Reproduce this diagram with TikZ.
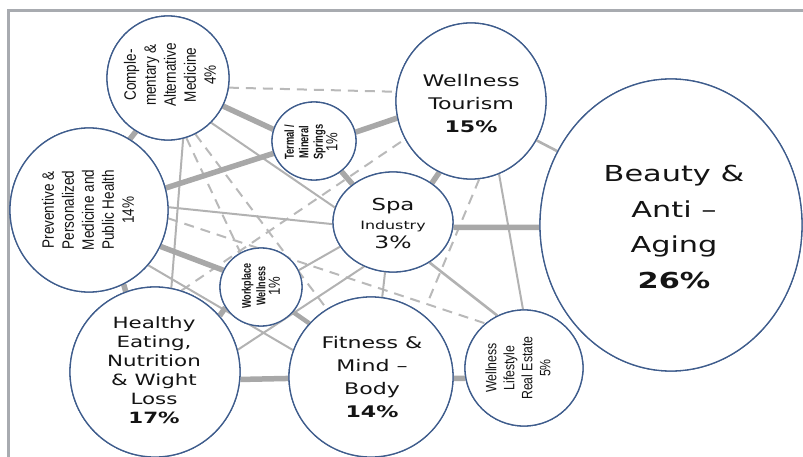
\documentclass[tikz,border=0pt]{standalone}
\usepackage{fontspec}
\setmainfont{DejaVu Sans}
\newfontfamily\wide[FakeStretch=1.38]{DejaVu Sans}
\newfontfamily\narrow[FakeStretch=0.82]{Liberation Sans}
\newfontfamily\condb[FakeStretch=0.72]{Liberation Sans}
\usetikzlibrary{shapes.geometric}
\definecolor{rim}{RGB}{62,92,140}
\definecolor{thickc}{RGB}{168,168,168}
\definecolor{thinc}{RGB}{178,178,178}
\definecolor{dashc}{RGB}{185,185,185}
\definecolor{framec}{RGB}{168,171,176}
\definecolor{txt}{RGB}{20,20,20}
\tikzset{
  bubble/.style={ellipse, draw=rim, line width=1.3pt, fill=white, inner sep=0pt},
  thickline/.style={draw=thickc, line width=5.5pt},
  thinline/.style={draw=thinc, line width=2pt},
  dashline/.style={draw=dashc, line width=2pt, dash pattern=on 10pt off 7pt},
  lbl/.style={text=txt, align=center, inner sep=0pt},
  rotlbl/.style={lbl, rotate=90},
}
\begin{document}
\begin{tikzpicture}[x=1pt,y=-1pt]
\useasboundingbox (0,0) rectangle (803,457);
% frame
\draw[framec, line width=2.6pt] (8.5,457) -- (8.5,10.5) -- (803,10.5);
% bubbles (named, used as connector ends)
\path
  node[bubble, minimum width=122pt, minimum height=124pt] (comp) at (168,78) {}
  node[bubble, minimum width=84pt, minimum height=78pt] (term) at (314,141) {}
  node[bubble, minimum width=150pt, minimum height=156pt] (wt) at (471,101) {}
  node[bubble, minimum width=262pt, minimum height=292pt] (beauty) at (671,225) {}
  node[bubble, minimum width=158pt, minimum height=164pt] (prev) at (89,210) {}
  node[bubble, minimum width=120pt, minimum height=100pt] (spa) at (393,222) {}
  node[bubble, minimum width=82pt, minimum height=78pt] (work) at (261,287) {}
  node[bubble, minimum width=170pt, minimum height=170pt] (healthy) at (155,372) {}
  node[bubble, minimum width=164pt, minimum height=160pt] (fitness) at (371,377) {}
  node[bubble, minimum width=118pt, minimum height=116pt] (wl) at (524,368) {};
\coordinate (lcorner) at (427,304);
% dashed
\draw[dashline] (comp.-9) -- (wt.173);
\draw[dashline] (comp.-73) -- (work.121);
\draw[dashline] (comp.-64) -- (fitness.123);
\draw[dashline] (healthy.72) -- (wt.-150);
\draw[dashline] (wt.-84) -- (lcorner);
\draw[dashline] (prev.-6) -- (wl.131);
% thin
\draw[thinline] (comp.-76) -- (healthy.79);
\draw[thinline] (comp.-46) -- (spa.166);
\draw[thinline] (prev.2) -- (spa.-178);
\draw[thinline] (work.24) -- (spa.-155);
\draw[thinline] (healthy.15) -- (spa.-123);
\draw[thinline] (spa.-99) -- (fitness.82);
\draw[thinline, line width=2.6pt] (spa.-48) -- (wl.117);
\draw[thinline] (wt.-69) -- (wl.91);
\draw[thinline] (prev.-43) -- (fitness.161);
\draw[thinline, line width=2.6pt] (wt.-31) -- (beauty.147);
% thick
\draw[thickline] (comp.-27) -- (term.164);
\draw[thickline] (term.12) -- (wt.-167);
\draw[thickline] (prev.16) -- (term.-163);
\draw[thickline] (term.-48) -- (spa.137);
\draw[thickline] (wt.-114) -- (spa.45);
\draw[thickline] (spa.-5) -- (beauty.-179);
\draw[thickline] (healthy.-5) -- (fitness.-179);
\draw[thickline] (prev.-27) -- (work.156);
\draw[thickline, line width=4.5pt] (work.-38) -- (fitness.139);
\draw[thickline] (healthy.41) -- (work.-150);
\draw[thickline] (prev.-65) -- (healthy.110);
\draw[thickline] (comp.-121) -- (prev.60);
\draw[thickline] (fitness.-1) -- (wl.-170);
% bubbles again, on top of the connectors
\path
  node[bubble, minimum width=122pt, minimum height=124pt] at (comp) {}
  node[bubble, minimum width=84pt, minimum height=78pt] at (term) {}
  node[bubble, minimum width=150pt, minimum height=156pt] at (wt) {}
  node[bubble, minimum width=262pt, minimum height=292pt] at (beauty) {}
  node[bubble, minimum width=158pt, minimum height=164pt] at (prev) {}
  node[bubble, minimum width=120pt, minimum height=100pt] at (spa) {}
  node[bubble, minimum width=82pt, minimum height=78pt] at (work) {}
  node[bubble, minimum width=170pt, minimum height=170pt] at (healthy) {}
  node[bubble, minimum width=164pt, minimum height=160pt] at (fitness) {}
  node[bubble, minimum width=118pt, minimum height=116pt] at (wl) {};
% labels
\node[rotlbl, font=\narrow\fontsize{16.5}{20}\selectfont] (compt) at (170,75)
  {Comple-\\mentary \&\\Alternative\\Medicine\\4\%};
\node[rotlbl, font=\condb\bfseries\fontsize{13}{14.5}\selectfont] (termt) at (311,142)
  {Termal /\\Mineral\\Springs\\{\mdseries\narrow\fontsize{16}{16}\selectfont 1\%}};
\node[lbl, font=\wide\fontsize{16}{23}\selectfont] (wtt) at (471,104)
  {Wellness\\Tourism\\\textbf{15\%}};
\node[lbl, font=\wide\fontsize{22}{35.5}\selectfont] (beautyt) at (674,227)
  {Beauty \&\\Anti –\\Aging\\\textbf{26\%}};
\node[rotlbl, font=\narrow\fontsize{16.5}{20}\selectfont] (prevt) at (88,210)
  {Preventive \&\\Personalized\\Medicine and\\Public Health\\14\%};
\node[lbl, font=\wide\fontsize{16.5}{19}\selectfont] (spat) at (393,223)
  {Spa\\{\fontsize{11.5}{19}\selectfont Industry}\\{\fontsize{17}{22}\selectfont 3\%}};
\node[rotlbl, font=\condb\bfseries\fontsize{12.5}{14.5}\selectfont] (workt) at (261,286)
  {Workplace\\Wellness\\{\mdseries\narrow\fontsize{16}{16}\selectfont 1\%}};
\node[lbl, font=\wide\fontsize{15.5}{19}\selectfont] (healthyt) at (154,370)
  {Healthy\\Eating,\\Nutrition\\\& Wight\\Loss\\\textbf{17\%}};
\node[lbl, font=\wide\fontsize{16}{23}\selectfont] (fitnesst) at (372,377)
  {Fitness \&\\Mind –\\Body\\\textbf{14\%}};
\node[rotlbl, font=\narrow\fontsize{15}{18}\selectfont] (wlt) at (518,368)
  {Wellness\\Lifestyle\\Real Estate\\5\%};
\end{tikzpicture}
\end{document}
